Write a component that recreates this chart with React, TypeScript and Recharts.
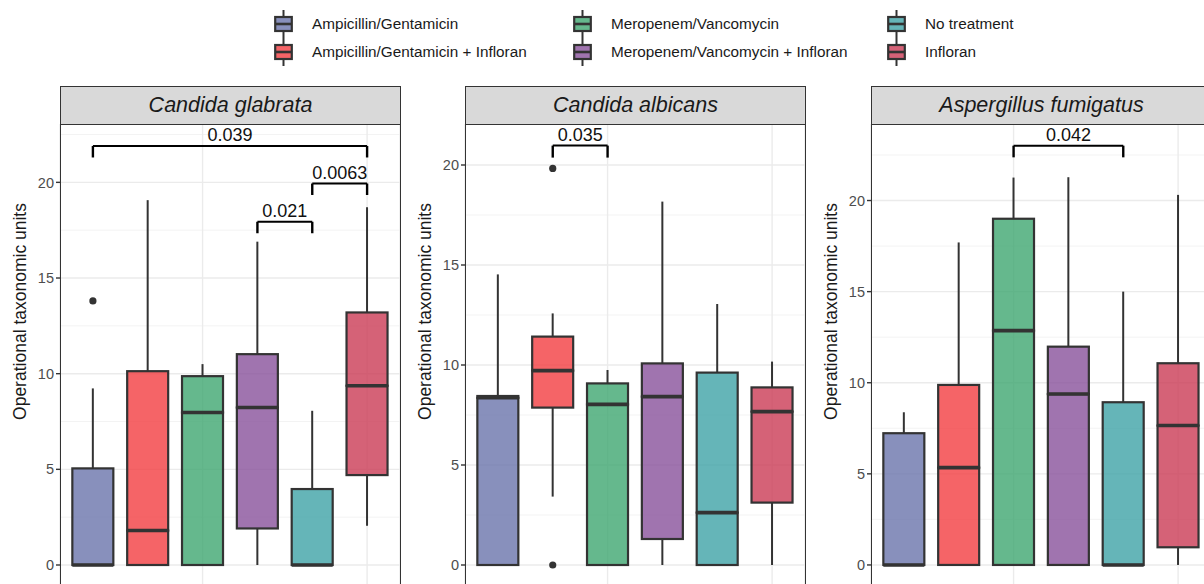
import React from 'react';
import { ComposedChart, Bar, Scatter, XAxis, YAxis, CartesianGrid, ReferenceLine } from 'recharts';

// Treatments (x categories / legend entries)
const treatments = [
  'Ampicillin/Gentamicin',
  'Ampicillin/Gentamicin + Infloran',
  'Meropenem/Vancomycin',
  'Meropenem/Vancomycin + Infloran',
  'No treatment',
  'Infloran',
];
const treatmentColors = ['#6A74AB', '#F23D41', '#3EA670', '#88519B', '#3EA2A6', '#CA3B55'];

const yTicks = [0, 5, 10, 15, 20];
const yMinorTicks = [2.5, 7.5, 12.5, 17.5, 22.5];

// Box summaries per treatment: [lower whisker, Q1, median, Q3, upper whisker]
const glabrataBoxes = [
  [0, 0, 0, 5.05, 9.23],
  [0, 0, 1.8, 10.13, 19.07],
  [0, 0, 7.97, 9.87, 10.5],
  [0, 1.91, 8.23, 11.02, 16.9],
  [0, 0, 0, 3.97, 8.06],
  [2.05, 4.7, 9.37, 13.2, 18.7],
];
const glabrataOutliers = [[13.8], [], [], [], [], []];
const glabrataSignif = [
  { from: 0, to: 5, y: 21.9, label: '0.039' },
  { from: 4, to: 5, y: 19.94, label: '0.0063' },
  { from: 3, to: 4, y: 17.94, label: '0.021' },
];
const glabrataTip = 0.6;
const glabrataDomain = [-1.15, 23.05];

const albicansBoxes = [
  [0, 0, 8.36, 8.45, 14.53],
  [3.42, 7.87, 9.72, 11.42, 12.58],
  [0, 0, 8.03, 9.08, 9.75],
  [0, 1.3, 8.42, 10.08, 18.17],
  [0, 0, 2.62, 9.62, 13.05],
  [0, 3.12, 7.67, 8.88, 10.17],
];
const albicansOutliers = [[], [19.83, 0], [], [], [], []];
const albicansSignif = [{ from: 1, to: 2, y: 20.97, label: '0.035' }];
const albicansTip = 0.6;
const albicansDomain = [-1.1, 22.05];

const fumigatusBoxes = [
  [0, 0, 0, 7.23, 8.38],
  [0, 0, 5.34, 9.88, 17.7],
  [0, 0, 12.86, 19.0, 21.26],
  [0, 0, 9.38, 11.98, 21.28],
  [0, 0, 0, 8.93, 15.0],
  [0, 0.97, 7.65, 11.07, 20.31],
];
const fumigatusOutliers = [[], [], [], [], [], []];
const fumigatusSignif = [{ from: 2, to: 4, y: 23.01, label: '0.042' }];
const fumigatusTip = 0.64;
const fumigatusDomain = [-1.21, 24.2];

const DARK = '#333333';
const FONT = '"Liberation Sans", Arial, Helvetica, sans-serif';

const Empty = () => null;

const Whisker = (props: any) => {
  const { x, y, width, height } = props;
  if (!(height > 0)) return null;
  const cx = x + width / 2;
  return <line x1={cx} x2={cx} y1={y} y2={y + height} stroke={DARK} strokeWidth={2} />;
};

const LowBox = (props: any) => {
  const { x, y, width, height, payload } = props;
  if (!(height > 0)) return null;
  return (
    <rect x={x} y={y} width={width} height={height} fill={payload?.color} fillOpacity={0.8} stroke={DARK} strokeWidth={2.2} />
  );
};

const HighBox = (props: any) => {
  const { x, y, width, height, payload } = props;
  if (!(height >= 0)) return null;
  return (
    <g>
      <rect x={x} y={y} width={width} height={height} fill={payload?.color} fillOpacity={0.8} stroke={DARK} strokeWidth={2.2} />
      <line x1={x} x2={x + width} y1={y + height} y2={y + height} stroke={DARK} strokeWidth={3.6} />
    </g>
  );
};

const makeDot = (key: string) => (p: any) => {
  if (!p || !p.payload || p.payload[key] == null || !Number.isFinite(p.cy)) return <g />;
  return <circle cx={p.cx} cy={p.cy} r={3.6} fill={DARK} />;
};

type PanelProps = {
  title: string;
  left: number;
  boxes: number[][];
  outliers: number[][];
  signif: { from: number; to: number; y: number; label: string }[];
  tip: number;
  domain: number[];
};

const CHART_W = 400;
const CHART_H = 463;
const AXIS_W = 60;
const PLOT_TOP = 124;
const STRIP_TOP = 86;

function Panel({ title, left, boxes, outliers, signif, tip, domain }: PanelProps) {
  const data = treatments.map((t, i) => {
    const [lo, q1, med, q3, hi] = boxes[i];
    return {
      name: t,
      color: treatmentColors[i],
      base: lo,
      lowWhisker: q1 - lo,
      lowBox: med - q1,
      highBox: q3 - med,
      highWhisker: hi - q3,
      out1: outliers[i][0] ?? null,
      out2: outliers[i][1] ?? null,
    };
  });
  const plotW = CHART_W - AXIS_W;
  const pad = (plotW * 0.1) / 6.2;

  const refs: React.ReactNode[] = [];
  signif.forEach((s, k) => {
    const a = treatments[s.from];
    const b = treatments[s.to];
    refs.push(
      <ReferenceLine
        key={`h${k}`}
        segment={[{ x: a, y: s.y }, { x: b, y: s.y }]}
        stroke="#000"
        strokeWidth={2}
        ifOverflow="visible"
        label={{ value: s.label, position: 'top', offset: 5, fontSize: 18, fill: '#111', fontFamily: FONT }}
      />
    );
    refs.push(
      <ReferenceLine key={`l${k}`} segment={[{ x: a, y: s.y }, { x: a, y: s.y - tip }]} stroke="#000" strokeWidth={2.4} ifOverflow="visible" />
    );
    refs.push(
      <ReferenceLine key={`r${k}`} segment={[{ x: b, y: s.y }, { x: b, y: s.y - tip }]} stroke="#000" strokeWidth={2.4} ifOverflow="visible" />
    );
  });

  return (
    <>
      <div
        style={{
          position: 'absolute',
          left: left + AXIS_W,
          top: STRIP_TOP,
          width: plotW + 1,
          height: PLOT_TOP - STRIP_TOP + 1,
          boxSizing: 'border-box',
          border: `1.4px solid ${DARK}`,
          background: '#D9D9D9',
          display: 'flex',
          alignItems: 'center',
          justifyContent: 'center',
          fontStyle: 'italic',
          fontSize: 21.5,
          color: '#1A1A1A',
          fontFamily: FONT,
        }}
      >
        {title}
      </div>
      <div style={{ position: 'absolute', left, top: PLOT_TOP }}>
        <ComposedChart
          width={CHART_W}
          height={CHART_H}
          data={data}
          margin={{ top: 0, right: 0, bottom: 0, left: 0 }}
          barCategoryGap="12.5%"
        >
          <CartesianGrid yAxisId="minor" vertical={false} stroke="#F2F2F2" strokeWidth={0.9} />
          <CartesianGrid stroke="#EBEBEB" strokeWidth={1.4} />
          <XAxis dataKey="name" type="category" hide padding={{ left: pad, right: pad }} />
          <YAxis yAxisId="minor" type="number" domain={domain} allowDataOverflow ticks={yMinorTicks} hide />
          <YAxis
            type="number"
            domain={domain}
            allowDataOverflow
            ticks={yTicks}
            width={AXIS_W}
            tickSize={4}
            tickMargin={2}
            axisLine={false}
            tickLine={{ stroke: DARK, strokeWidth: 1.4 }}
            tick={{ fontSize: 14.5, fill: '#4D4D4D', fontFamily: FONT }}
            label={{
              value: 'Operational taxonomic units',
              angle: -90,
              position: 'insideLeft',
              offset: 20,
              dy: -44,
              fontSize: 17.5,
              fill: '#1A1A1A',
              fontFamily: FONT,
              style: { textAnchor: 'middle' },
            }}
          />
          <Bar dataKey="base" stackId="b" shape={<Empty />} isAnimationActive={false} />
          <Bar dataKey="lowWhisker" stackId="b" shape={<Whisker />} isAnimationActive={false} />
          <Bar dataKey="lowBox" stackId="b" shape={<LowBox />} isAnimationActive={false} />
          <Bar dataKey="highBox" stackId="b" shape={<HighBox />} isAnimationActive={false} />
          <Bar dataKey="highWhisker" stackId="b" shape={<Whisker />} isAnimationActive={false} />
          <Scatter dataKey="out1" shape={makeDot('out1')} isAnimationActive={false} />
          <Scatter dataKey="out2" shape={makeDot('out2')} isAnimationActive={false} />
          {refs}
        </ComposedChart>
      </div>
      <div
        style={{
          position: 'absolute',
          left: left + AXIS_W,
          top: PLOT_TOP,
          width: plotW + 1,
          height: CHART_H + 10,
          boxSizing: 'border-box',
          border: `1.4px solid ${DARK}`,
          pointerEvents: 'none',
        }}
      />
    </>
  );
}

const legendTextX = [312, 611, 925];
const legendRowY = [24, 52];

function LegendKey({ color }: { color: string }) {
  return (
    <svg width={19} height={28} style={{ display: 'block' }}>
      <line x1={9.5} x2={9.5} y1={0} y2={28} stroke={DARK} strokeWidth={2} />
      <rect x={1.2} y={7} width={16.6} height={14} fill="#fff" stroke="none" />
      <rect x={1.2} y={7} width={16.6} height={14} fill={color} fillOpacity={0.8} stroke={DARK} strokeWidth={2.2} />
      <line x1={1.2} x2={17.8} y1={14} y2={14} stroke={DARK} strokeWidth={2.6} />
    </svg>
  );
}

function Legend() {
  return (
    <>
      {treatments.map((t, i) => {
        const col = Math.floor(i / 2);
        const row = i % 2;
        const x = legendTextX[col];
        const y = legendRowY[row];
        return (
          <React.Fragment key={t}>
            <div style={{ position: 'absolute', left: x - 38, top: y - 14 }}>
              <LegendKey color={treatmentColors[i]} />
            </div>
            <div
              style={{
                position: 'absolute',
                left: x,
                top: y - 10,
                height: 20,
                lineHeight: '20px',
                fontSize: 15.3,
                color: '#1A1A1A',
                fontFamily: FONT,
                whiteSpace: 'nowrap',
              }}
            >
              {t}
            </div>
          </React.Fragment>
        );
      })}
    </>
  );
}

export default function App() {
  return (
    <div
      style={{
        position: 'absolute',
        left: 0,
        top: 0,
        width: 1204,
        height: 584,
        overflow: 'hidden',
        background: '#fff',
        fontFamily: FONT,
      }}
    >
      <Legend />
      <Panel title="Candida glabrata" left={0} boxes={glabrataBoxes} outliers={glabrataOutliers} signif={glabrataSignif} tip={glabrataTip} domain={glabrataDomain} />
      <Panel title="Candida albicans" left={405} boxes={albicansBoxes} outliers={albicansOutliers} signif={albicansSignif} tip={albicansTip} domain={albicansDomain} />
      <Panel title="Aspergillus fumigatus" left={811} boxes={fumigatusBoxes} outliers={fumigatusOutliers} signif={fumigatusSignif} tip={fumigatusTip} domain={fumigatusDomain} />
    </div>
  );
}
